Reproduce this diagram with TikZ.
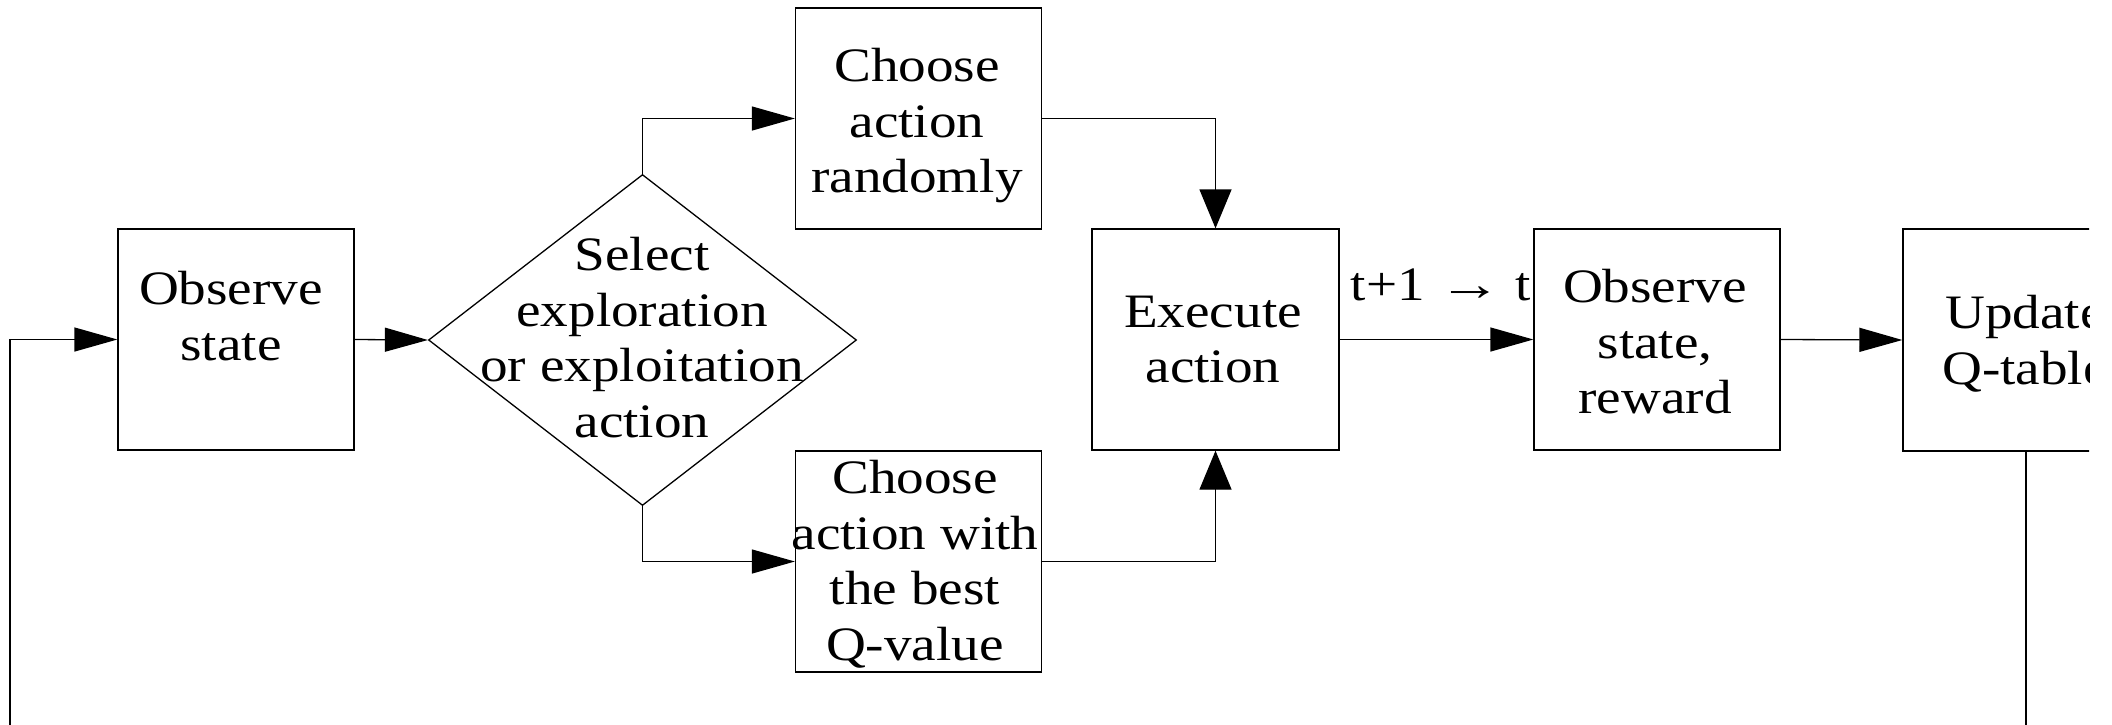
\documentclass[tikz,border=0pt]{standalone}
\usepackage{fontspec}
\usepackage{graphicx}
\setmainfont[FakeStretch=1.15]{Liberation Serif}
\usetikzlibrary{shapes.geometric,arrows.meta}

\tikzset{
  box/.style={draw, rectangle, inner sep=0pt, minimum width=246pt, minimum height=221pt},
  decision/.style={draw, diamond, inner sep=0pt, minimum width=428pt, minimum height=331pt},
  boxtext/.style={align=center, inner sep=0pt, anchor=north, font=\fontsize{48}{55.5}\selectfont},
  harrow/.style={-{Triangle[length=43pt,width=24pt]}},
  varrow/.style={-{Triangle[length=39pt,width=32pt]}},
}

\begin{document}
\begin{tikzpicture}[x=1pt, y=-1pt, line width=1.3pt]
  \useasboundingbox (0,0) rectangle (2112,724);
  \begin{scope}
    \clip (0,0) rectangle (2089,724);

    % process boxes and the decision
    \node[box, minimum width=236pt] (obs) at (236,339.5) {};
    \node[decision] (dia) at (642.5,340) {};
    \node[box] (rand) at (918.5,118.5) {};
    \node[box] (best) at (918.5,561.5) {};
    \node[box, minimum width=247pt] (exe) at (1215.5,339.5) {};
    \node[box] (obsr) at (1657,339.5) {};
    \node[box, minimum height=222pt] (upd) at (2026,340) {};

    % box captions
    \node[boxtext] (obs-t) at (231,271) {Observe\\state};
    \node[boxtext] (dia-t) at (642,237) {Select\\exploration\\or exploitation\\action};
    \node[boxtext] (rand-t) at (917,48) {Choose\\action\\randomly};
    \node[boxtext] (best-t) at (915,460) {Choose\\action with\\the best\\Q-value};
    \node[boxtext] (exe-t) at (1213,295) {Execute\\action};
    \node[boxtext] (obsr-t) at (1655,269) {Observe\\state,\\reward};
    \node[boxtext] (upd-t) at (2025,295) {Update\\Q-table};
    \node[inner sep=0pt, anchor=base, font=\fontsize{48}{55.5}\selectfont] (step) at (1441,300) {t+1 \scalebox{1.15}[1]{→} t};

    % connectors
    \draw[harrow] (obs.east) -- (dia.west);
    \draw[harrow] (dia.north) |- (rand.west);
    \draw[harrow] (dia.south) |- (best.west);
    \draw[varrow] (rand.east) -| (exe.north);
    \draw[varrow] (best.east) -| (exe.south);
    \draw[harrow] (exe.east) -- (obsr.west);
    \draw[harrow] (obsr.east) -- (upd.west);

    % feedback loop back to the first step
    \coordinate (loopR) at (2026,760);
    \coordinate (loopL) at (10,760);
    \draw[harrow] (upd.south) -- (loopR) -- (loopL) |- (obs.west);
  \end{scope}
\end{tikzpicture}
\end{document}
